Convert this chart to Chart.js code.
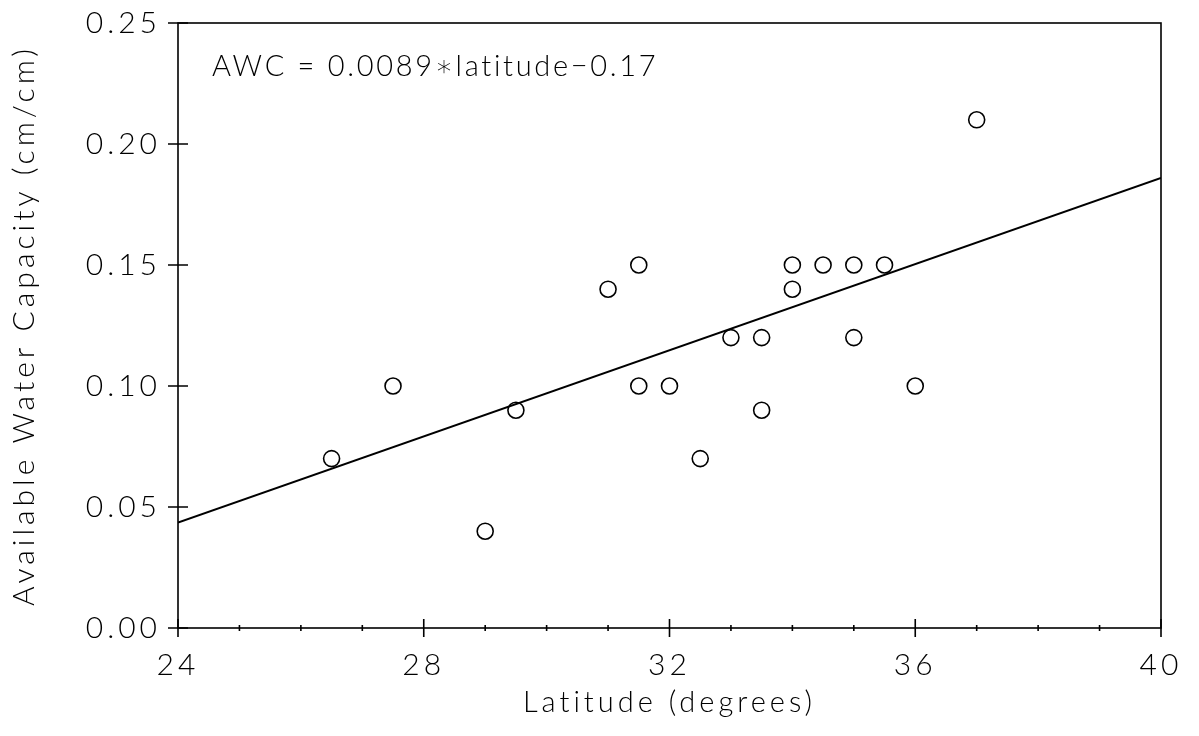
<!DOCTYPE html>
<html>
<head>
<meta charset="utf-8">
<title>Available Water Capacity vs Latitude</title>
<script src="https://cdn.jsdelivr.net/npm/chart.js@4.4.1/dist/chart.umd.min.js"></script>
<style>
    html, body { margin: 0; padding: 0; background: #fff; }
    #awc-chart { display: block; }
</style>
</head>
<body>
<canvas id="awc-chart" width="1199" height="736"></canvas>
<script>
// Soil samples: latitude (degrees) and measured available water capacity (cm/cm)
const latitudes = [26.5, 27.5, 29.0, 29.5, 31.0, 31.5, 31.5, 32.0, 32.5, 33.0, 33.5, 33.5, 34.0, 34.0, 34.5, 35.0, 35.0, 35.5, 36.0, 37.0];
const awcValues = [0.07, 0.10, 0.04, 0.09, 0.14, 0.15, 0.10, 0.10, 0.07, 0.12, 0.12, 0.09, 0.15, 0.14, 0.15, 0.15, 0.12, 0.15, 0.10, 0.21];

// Regression line AWC = 0.0089*latitude - 0.17, drawn across the x range
const fitSlope = 0.0089;
const fitIntercept = -0.17;
const fitRange = [24, 40];

const xTickLabels = [24, 28, 32, 36, 40];
const yTickLabels = [0.00, 0.05, 0.10, 0.15, 0.20, 0.25];

const FONT = 'Lato, "DejaVu Sans", sans-serif';
const SPACING = '4px'; // the plotter font is set wide

// Wide letter spacing for every label the chart measures and draws
const wideText = {
    id: 'wideText',
    beforeLayout: (chart) => { chart.ctx.letterSpacing = SPACING; },
    beforeDraw: (chart) => { chart.ctx.letterSpacing = SPACING; }
};

// Frame around the plot plus ticks that cross the axis lines
const frameAndTicks = {
    id: 'frameAndTicks',
    afterDraw: (chart) => {
        const { ctx, chartArea: a, scales } = chart;
        ctx.save();
        ctx.strokeStyle = '#000';
        ctx.lineWidth = 1.6;
        ctx.strokeRect(a.left, a.top, a.right - a.left, a.bottom - a.top);

        ctx.beginPath();
        for (let v = fitRange[0]; v <= fitRange[1]; v++) {
            const x = scales.x.getPixelForValue(v);
            const len = xTickLabels.includes(v) ? 9 : 3;
            ctx.moveTo(x, a.bottom - len);
            ctx.lineTo(x, a.bottom + len);
        }
        yTickLabels.forEach(v => {
            const y = scales.y.getPixelForValue(v);
            ctx.moveTo(a.left - 10, y);
            ctx.lineTo(a.left + 10, y);
        });
        ctx.stroke();

        // equation note in the upper left corner
        ctx.fillStyle = '#000';
        ctx.font = '300 29px ' + FONT;
        ctx.letterSpacing = '2.7px';
        ctx.textBaseline = 'middle';
        ctx.textAlign = 'left';
        ctx.fillText('AWC = 0.0089\u2217latitude\u22120.17', a.left + 34, a.top + 44);
        ctx.restore();
    }
};

const createAwcChart = () => {
    const ctx = document.getElementById('awc-chart').getContext('2d');

    new Chart(ctx, {
        type: 'scatter',
        data: {
            datasets: [
                {
                    label: 'Samples',
                    data: latitudes.map((lat, i) => ({ x: lat, y: awcValues[i] })),
                    pointStyle: 'circle',
                    pointRadius: 8,
                    pointBorderWidth: 1.6,
                    pointBorderColor: '#000',
                    pointBackgroundColor: 'rgba(0,0,0,0)'
                },
                {
                    label: 'Fit',
                    type: 'line',
                    data: fitRange.map(lat => ({ x: lat, y: fitSlope * lat + fitIntercept })),
                    borderColor: '#000',
                    borderWidth: 2,
                    pointRadius: 0,
                    fill: false
                }
            ]
        },
        options: {
            responsive: false,
            animation: false,
            layout: {
                padding: { top: 23, right: 38, left: 0, bottom: 0 }
            },
            plugins: {
                legend: { display: false },
                tooltip: { enabled: false }
            },
            scales: {
                x: {
                    type: 'linear',
                    min: 24,
                    max: 40,
                    grid: { display: false, drawTicks: false },
                    border: { display: false },
                    afterFit: (scale) => {
                        scale.height = 108;
                        scale.paddingLeft = 0;
                        scale.paddingRight = 0;
                    },
                    ticks: {
                        stepSize: 1,
                        padding: 19,
                        color: '#000',
                        font: { family: FONT, size: 30, weight: 300 },
                        callback: (value) => xTickLabels.includes(value) ? String(value) : ''
                    },
                    title: {
                        display: true,
                        text: 'Latitude (degrees)',
                        color: '#000',
                        font: { family: FONT, size: 29, weight: 300 },
                        padding: { top: 0, bottom: 16 }
                    }
                },
                y: {
                    min: 0,
                    max: 0.25,
                    grid: { display: false, drawTicks: false },
                    border: { display: false },
                    afterFit: (scale) => {
                        scale.width = 178;
                        scale.paddingTop = 0;
                        scale.paddingBottom = 0;
                    },
                    ticks: {
                        stepSize: 0.05,
                        padding: 17,
                        color: '#000',
                        font: { family: FONT, size: 30, weight: 300 },
                        callback: (value) => value.toFixed(2)
                    },
                    title: {
                        display: true,
                        text: 'Available Water Capacity (cm/cm)',
                        color: '#000',
                        font: { family: FONT, size: 30, weight: 300 },
                        padding: { top: 6, bottom: 0 }
                    }
                }
            }
        },
        plugins: [wideText, frameAndTicks]
    });
};

document.addEventListener('DOMContentLoaded', function () {
    createAwcChart();
});
</script>
</body>
</html>
